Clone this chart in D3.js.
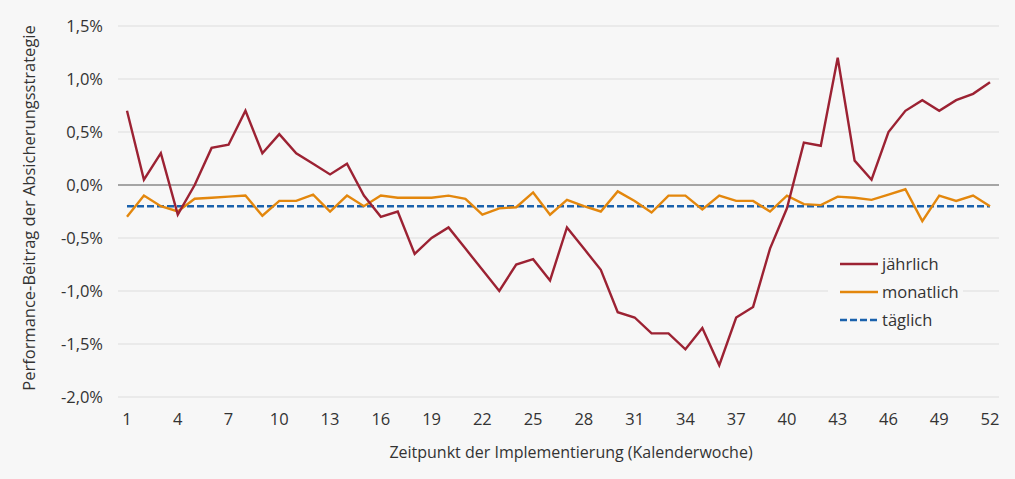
<!DOCTYPE html>
<html>
<head>
<meta charset="utf-8">
<script src="https://cdn.jsdelivr.net/npm/d3@7"></script>
<style>
  body { margin: 0; background: #f7f7f7; }
  svg { display: block; font-family: "Open Sans", "Noto Sans", sans-serif; }
</style>
</head>
<body>
<svg width="1015" height="479"></svg>
<script>
// Kalenderwochen 1..52
var weeks = d3.range(1, 53)
var jaehrlich = [0.70, 0.05, 0.30, -0.28, 0.00, 0.35, 0.38, 0.70, 0.30, 0.48,
                 0.30, 0.20, 0.10, 0.20, -0.10, -0.30, -0.25, -0.65, -0.50, -0.40,
                 -0.60, -0.80, -1.00, -0.75, -0.70, -0.90, -0.40, -0.60, -0.80, -1.20,
                 -1.25, -1.40, -1.40, -1.55, -1.35, -1.70, -1.25, -1.15, -0.60, -0.22,
                 0.40, 0.37, 1.20, 0.23, 0.05, 0.50, 0.70, 0.80, 0.70, 0.80,
                 0.86, 0.97]
var monatlich = [-0.30, -0.10, -0.20, -0.25, -0.13, -0.12, -0.11, -0.10, -0.29, -0.15,
                 -0.15, -0.09, -0.25, -0.10, -0.20, -0.10, -0.12, -0.12, -0.12, -0.10,
                 -0.13, -0.28, -0.22, -0.21, -0.07, -0.28, -0.14, -0.20, -0.25, -0.06,
                 -0.15, -0.26, -0.10, -0.10, -0.23, -0.10, -0.15, -0.15, -0.25, -0.10,
                 -0.18, -0.19, -0.11, -0.12, -0.14, -0.09, -0.04, -0.34, -0.10, -0.15,
                 -0.10, -0.20]
var taeglich = weeks.map(function(){ return -0.20 })
var yTicks = [1.5, 1.0, 0.5, 0.0, -0.5, -1.0, -1.5, -2.0]
var xTicks = [1, 4, 7, 10, 13, 16, 19, 22, 25, 28, 31, 34, 37, 40, 43, 46, 49, 52]
var seriesNames = ['jährlich', 'monatlich', 'täglich']

var svg = d3.select('svg')

var x = d3.scaleLinear().domain([1, 52]).range([127, 990])
var y = d3.scaleLinear().domain([-2.0, 1.5]).range([397, 26])

var gridLeft = 118, gridRight = 999
var fmt = function(v){ return d3.format('.1f')(v).replace('.', ',').replace('−', '-') + '%' }

// gridlines
svg.append('g').selectAll('line')
  .data(yTicks.filter(function(d){ return d !== 0 }))
  .enter().append('line')
  .attr('x1', gridLeft).attr('x2', gridRight)
  .attr('y1', function(d){ return y(d) }).attr('y2', function(d){ return y(d) })
  .style('stroke', '#dddddd').style('stroke-width', 1.2)

// zero line
svg.append('line')
  .attr('x1', gridLeft).attr('x2', gridRight)
  .attr('y1', y(0)).attr('y2', y(0))
  .style('stroke', '#8a8a8a').style('stroke-width', 1.5)

// y labels
svg.append('g').selectAll('text')
  .data(yTicks)
  .enter().append('text')
  .attr('x', 103)
  .attr('y', function(d){ return y(d) + 6 })
  .attr('text-anchor', 'end')
  .style('font-size', '16.5px').style('fill', '#333')
  .text(fmt)

// x labels
svg.append('g').selectAll('text')
  .data(xTicks)
  .enter().append('text')
  .attr('x', function(d){ return x(d) })
  .attr('y', 425)
  .attr('text-anchor', 'middle')
  .style('font-size', '16.5px').style('fill', '#333')
  .text(function(d){ return d })

// axis titles
svg.append('text')
  .attr('x', 571).attr('y', 458)
  .attr('text-anchor', 'middle')
  .style('font-size', '16px').style('fill', '#333')
  .text('Zeitpunkt der Implementierung (Kalenderwoche)')

svg.append('text')
  .attr('transform', 'translate(35,208) rotate(-90)')
  .attr('text-anchor', 'middle')
  .style('font-size', '16.5px').style('fill', '#333')
  .text('Performance-Beitrag der Absicherungsstrategie')

var line = d3.line()
  .x(function(d, i){ return x(weeks[i]) })
  .y(function(d){ return y(d) })

var series = [
  { name: seriesNames[0], values: jaehrlich, color: '#9c2233', dash: null },
  { name: seriesNames[1], values: monatlich, color: '#e3870d', dash: null },
  { name: seriesNames[2], values: taeglich, color: '#1a62ad', dash: '7,3' }
]

// draw täglich first, then monatlich, then jährlich on top
series.slice().reverse().forEach(function(s){
  svg.append('path')
    .attr('d', line(s.values))
    .style('fill', 'none')
    .style('stroke', s.color)
    .style('stroke-width', 2.4)
    .style('stroke-dasharray', s.dash)
    .style('stroke-linejoin', 'miter')
})

// legend
var legend = svg.append('g')
legend.append('rect')
  .attr('x', 828).attr('y', 250).attr('width', 135).attr('height', 84)
  .style('fill', '#f7f7f7')
var rowY = [264, 292, 320]
series.forEach(function(s, i){
  legend.append('line')
    .attr('x1', 840).attr('x2', 878)
    .attr('y1', rowY[i]).attr('y2', rowY[i])
    .style('stroke', s.color).style('stroke-width', 2.4)
    .style('stroke-dasharray', s.dash)
  legend.append('text')
    .attr('x', 882).attr('y', rowY[i] + 6)
    .style('font-size', '16.5px').style('fill', '#333')
    .text(s.name)
})
</script>
</body>
</html>
